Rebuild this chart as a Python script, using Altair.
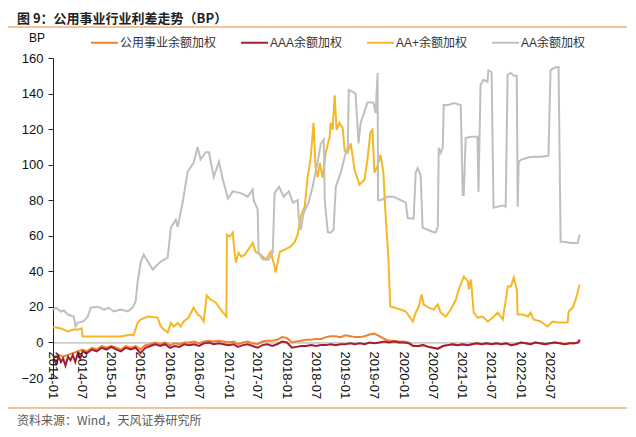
import altair as alt
import pandas as pd

SERIES = ["公用事业余额加权", "AAA余额加权", "AA+余额加权", "AA余额加权"]
COLORS = ["#EE822F", "#A21E36", "#F5B724", "#BFBFBF"]

TITLE = ["图 9：公用事业行业利差走势（BP）"]
UNIT = ["BP"]
SOURCE = ["资料来源：Wind，天风证券研究所"]

Y_TICKS = [-20, 0, 20, 40, 60, 80, 100, 120, 140, 160]
X_TICK_LABELS = [f"{y}-{m:02d}" for y in range(2014, 2023) for m in (1, 7)]

# 公用事业余额加权
util_dates = [
    "2014-01-05", "2014-02-05", "2014-03-05", "2014-04-05", "2014-05-05", "2014-06-05",
    "2014-07-05", "2014-08-01", "2014-09-01", "2014-10-01", "2014-11-01", "2014-12-01",
    "2015-01-01", "2015-02-01", "2015-03-01", "2015-04-01", "2015-05-01", "2015-06-01",
    "2015-07-01", "2015-08-01", "2015-09-01", "2015-10-01", "2015-11-01", "2015-12-01",
    "2016-01-01", "2016-02-01", "2016-03-01", "2016-04-01", "2016-05-01", "2016-06-01",
    "2016-07-01", "2016-08-01", "2016-09-01", "2016-10-01", "2016-11-01", "2016-12-01",
    "2017-01-01", "2017-02-01", "2017-03-01", "2017-04-01", "2017-05-01", "2017-06-01",
    "2017-07-01", "2017-08-01", "2017-09-01", "2017-10-01", "2017-11-01", "2017-12-01",
    "2018-01-01", "2018-02-01", "2018-03-01", "2018-04-01", "2018-05-01", "2018-06-01",
    "2018-07-01", "2018-08-01", "2018-09-01", "2018-10-01", "2018-11-01", "2018-12-01",
    "2019-01-01", "2019-02-01", "2019-03-01", "2019-04-01", "2019-05-01", "2019-06-01",
    "2019-07-01", "2019-08-01", "2019-09-01", "2019-10-01", "2019-11-01", "2019-12-01",
    "2020-01-01", "2020-02-01", "2020-03-01", "2020-04-01", "2020-05-01", "2020-06-01",
    "2020-07-01", "2020-08-01", "2020-09-01", "2020-10-01", "2020-11-01", "2020-12-01",
    "2021-01-01", "2021-02-01", "2021-03-01", "2021-04-01", "2021-05-01", "2021-06-01",
    "2021-07-01", "2021-08-01", "2021-09-01", "2021-10-01", "2021-11-01", "2021-12-01",
    "2022-01-01", "2022-02-01", "2022-03-01", "2022-04-01", "2022-05-01", "2022-06-01",
    "2022-07-01", "2022-08-01", "2022-09-01", "2022-10-01", "2022-11-01", "2022-12-01",
    "2022-12-25", "2023-01-03",
]
util_values = [
    -8, -7, -8, -7, -6, -5,
    -4, -5, -3, -4, -2, -3,
    -2, -3, -4, -2, -3, -2,
    -4, -1.5, -1, 0, -1, 0,
    -1.5, -0.5, -1, 0, 0, 0.5,
    -0.5, 0.5, 1, 0.5, 1, 0.5,
    0, 0.5, -1, 0, 0.5, -0.5,
    -1, 0.5, 1, 1, 1.5, 3,
    2.5, 0, 0.5, 1, 1.5, 1.5,
    2, 2, 3, 3.5, 3.5, 3,
    4, 3.5, 3, 3, 3.5, 4.5,
    5, 3.5, 2, 1, 1, 0.5,
    0.5, 0, -2, -2, -1.5, -2.5,
    -3, -3.5, -2, -1.5, -1, -1.5,
    -1, -1.5, -1, -0.5, -1, -0.5,
    -1, -0.5, -1, -0.5, -1.5, -1,
    0, -0.5, -1, 0, -0.5, -1,
    -0.5, 0, -0.5, -1, -0.5, -0.5,
    0, 1.5,
]

# AAA余额加权
aaa_dates = [
    "2014-01-05", "2014-01-20", "2014-02-05", "2014-02-20", "2014-03-05", "2014-03-20",
    "2014-04-05", "2014-04-20", "2014-05-05", "2014-05-20", "2014-06-05", "2014-06-20",
    "2014-07-05", "2014-08-01", "2014-09-01", "2014-10-01", "2014-11-01", "2014-12-01",
    "2015-01-01", "2015-02-01", "2015-03-01", "2015-04-01", "2015-05-01", "2015-06-01",
    "2015-07-01", "2015-08-01", "2015-09-01", "2015-10-01", "2015-11-01", "2015-12-01",
    "2016-01-01", "2016-02-01", "2016-03-01", "2016-04-01", "2016-05-01", "2016-06-01",
    "2016-07-01", "2016-08-01", "2016-09-01", "2016-10-01", "2016-11-01", "2016-12-01",
    "2017-01-01", "2017-02-01", "2017-03-01", "2017-04-01", "2017-05-01", "2017-06-01",
    "2017-07-01", "2017-08-01", "2017-09-01", "2017-10-01", "2017-11-01", "2017-12-01",
    "2018-01-01", "2018-02-01", "2018-03-01", "2018-04-01", "2018-05-01", "2018-06-01",
    "2018-07-01", "2018-08-01", "2018-09-01", "2018-10-01", "2018-11-01", "2018-12-01",
    "2019-01-01", "2019-02-01", "2019-03-01", "2019-04-01", "2019-05-01", "2019-06-01",
    "2019-07-01", "2019-08-01", "2019-09-01", "2019-10-01", "2019-11-01", "2019-12-01",
    "2020-01-01", "2020-02-01", "2020-03-01", "2020-04-01", "2020-05-01", "2020-06-01",
    "2020-07-01", "2020-08-01", "2020-09-01", "2020-10-01", "2020-11-01", "2020-12-01",
    "2021-01-01", "2021-02-01", "2021-03-01", "2021-04-01", "2021-05-01", "2021-06-01",
    "2021-07-01", "2021-08-01", "2021-09-01", "2021-10-01", "2021-11-01", "2021-12-01",
    "2022-01-01", "2022-02-01", "2022-03-01", "2022-04-01", "2022-05-01", "2022-06-01",
    "2022-07-01", "2022-08-01", "2022-09-01", "2022-10-01", "2022-11-01", "2022-12-01",
    "2022-12-25", "2023-01-03",
]
aaa_values = [
    -9, -12, -8, -11, -9, -13,
    -8, -10, -7, -11, -6, -9,
    -5, -6, -4, -5, -3, -4,
    -2.5, -4, -5, -3, -4, -3,
    -6, -3, -2, -1, -2, -1,
    -3, -2, -2.5, -1, -1.5, -1,
    -2, -0.5, 0, -1, -0.5, -1,
    -1.5, -1, -2.5, -1.5, -1, -2,
    -3, -1.5, -1, -2, -1, 0.5,
    0, -3, -2.5, -2, -2, -1.5,
    -2, -1.5, -1.5, -1, -1.5, -1,
    -1, -0.5, -1, -0.5, -1, 0,
    -0.5, 0, 0.5, 0, 0.5, 0,
    0, -0.5, -2, -2, -1.5, -2.5,
    -3, -3.5, -2, -1.5, -1, -1.5,
    -1, -1.5, -1, -0.5, -1, -0.5,
    -1, -0.5, -1, -0.5, -1.5, -1,
    0, -0.5, -1, 0, -0.5, -1,
    -0.5, 0, -0.5, -1, -0.5, -0.5,
    0, 1.5,
]

# AA+余额加权
aap_dates = [
    "2014-01-02", "2014-01-19", "2014-02-20", "2014-04-03", "2014-05-10", "2014-06-10",
    "2014-06-29", "2014-07-05", "2014-08-25", "2014-12-10", "2015-03-01", "2015-05-01",
    "2015-05-19", "2015-06-13", "2015-07-02", "2015-08-16", "2015-10-16", "2015-11-05",
    "2015-11-24", "2015-12-18", "2016-01-07", "2016-01-25", "2016-02-19", "2016-03-08",
    "2016-03-27", "2016-04-27", "2016-05-28", "2016-06-23", "2016-07-11", "2016-07-30",
    "2016-08-18", "2016-09-13", "2016-10-13", "2016-11-14", "2016-12-09", "2016-12-19",
    "2016-12-22", "2017-01-10", "2017-01-28", "2017-02-04", "2017-02-16", "2017-03-04",
    "2017-03-22", "2017-04-13", "2017-05-13", "2017-06-01", "2017-06-19", "2017-07-20",
    "2017-08-22", "2017-09-22", "2017-10-16", "2017-10-22", "2017-11-18", "2017-12-18",
    "2018-01-25", "2018-02-19", "2018-03-09", "2018-03-28", "2018-04-22", "2018-04-28",
    "2018-05-10", "2018-05-28", "2018-06-16", "2018-06-28", "2018-07-12", "2018-07-25",
    "2018-08-12", "2018-08-31", "2018-09-25", "2018-10-01", "2018-10-13", "2018-10-26",
    "2018-11-07", "2018-11-25", "2018-12-15", "2018-12-27", "2019-01-15", "2019-02-03",
    "2019-02-28", "2019-03-30", "2019-04-30", "2019-05-19", "2019-06-06", "2019-06-19",
    "2019-07-01", "2019-07-20", "2019-08-08", "2019-08-26", "2019-09-07", "2019-09-26",
    "2019-10-08", "2019-12-12", "2020-01-13", "2020-02-26", "2020-03-15", "2020-04-03",
    "2020-04-21", "2020-05-04", "2020-06-05", "2020-07-05", "2020-07-30", "2020-08-18",
    "2020-09-19", "2020-10-20", "2020-11-21", "2020-12-09", "2021-01-10", "2021-02-04",
    "2021-02-10", "2021-02-23", "2021-03-12", "2021-04-06", "2021-05-07", "2021-06-08",
    "2021-07-09", "2021-08-09", "2021-09-10", "2021-10-11", "2021-10-30", "2021-11-18",
    "2021-12-06", "2021-12-12", "2022-01-13", "2022-02-14", "2022-03-02", "2022-03-21",
    "2022-05-04", "2022-06-16", "2022-07-18", "2022-08-18", "2022-09-25", "2022-10-20",
    "2022-10-26", "2022-11-21", "2022-12-09", "2023-01-03",
]
aap_values = [
    8.4, 8.4, 7.9, 6.2, 7.3, 7.3,
    7.9, 3.4, 3.4, 3.4, 3.4, 4.5,
    3.9, 11, 12.9, 14.6, 14, 9,
    7.3, 5.6, 11, 9, 11, 9,
    11.8, 14, 19.6, 15.7, 14.6, 11.8,
    26.4, 24, 22.5, 18.5, 15.7, 14.6,
    60.6, 59.5, 61.8, 54, 45, 50.5,
    48.3, 49.4, 53.3, 56, 51, 49.4,
    46.6, 51, 42.7, 39.3, 51, 52.2,
    54, 56.7, 60.6, 70.7, 76.4, 82,
    93, 103, 123.5, 99, 93, 101,
    92.6, 106.7, 115.7, 123.5, 119.6, 139,
    119.6, 123.5, 120.7, 108, 106.7, 112,
    97, 88.7, 91.5, 103, 118, 119.6,
    95.5, 99, 105.6, 95.5, 74.7, 48.3,
    20.2, 18.5, 17.4, 11.8, 16.8, 20.2,
    27, 21.3, 19.6, 18.5, 21.3, 16.8,
    14.6, 18.5, 24, 29.8, 37, 34.3,
    29.8, 35.4, 16.8, 14, 14.6, 11.8,
    14, 16.8, 12.9, 31.5, 31.5, 36.5,
    29.8, 15.7, 15.7, 14.6, 16.8, 12.9,
    11.8, 9, 11.8, 11.2, 11.2, 11.2,
    17.4, 19.6, 24, 32.6,
]

# AA余额加权
aa_dates = [
    "2014-01-02", "2014-01-20", "2014-02-19", "2014-03-10", "2014-04-03", "2014-05-10",
    "2014-05-22", "2014-06-04", "2014-07-12", "2014-08-06", "2014-08-25", "2014-10-08",
    "2014-11-15", "2014-12-15", "2015-01-16", "2015-03-01", "2015-04-13", "2015-05-13",
    "2015-06-01", "2015-06-13", "2015-07-02", "2015-07-21", "2015-08-16", "2015-09-16",
    "2015-10-04", "2015-11-05", "2015-12-18", "2016-01-07", "2016-02-07", "2016-02-19",
    "2016-03-21", "2016-04-21", "2016-05-28", "2016-06-22", "2016-07-11", "2016-08-12",
    "2016-09-01", "2016-10-01", "2016-11-02", "2016-11-27", "2016-12-28", "2017-01-28",
    "2017-03-18", "2017-05-01", "2017-06-01", "2017-06-07", "2017-07-02", "2017-07-08",
    "2017-08-03", "2017-09-10", "2017-10-04", "2017-10-16", "2017-11-12", "2017-12-12",
    "2018-01-13", "2018-02-07", "2018-03-09", "2018-03-15", "2018-03-28", "2018-04-16",
    "2018-05-16", "2018-06-10", "2018-07-12", "2018-08-01", "2018-08-19", "2018-08-25",
    "2018-09-13", "2018-10-01", "2018-10-19", "2018-11-02", "2018-12-03", "2019-01-03",
    "2019-01-16", "2019-01-22", "2019-02-16", "2019-03-05", "2019-03-18", "2019-03-24",
    "2019-04-06", "2019-05-19", "2019-06-25", "2019-07-09", "2019-07-21", "2019-07-24",
    "2019-08-09", "2019-09-22", "2019-10-29", "2019-12-12", "2020-01-13", "2020-01-25",
    "2020-03-02", "2020-03-15", "2020-03-27", "2020-04-15", "2020-04-27", "2020-05-28",
    "2020-06-28", "2020-07-18", "2020-07-31", "2020-08-06", "2020-08-18", "2020-08-31",
    "2020-09-06", "2020-10-06", "2020-11-08", "2020-12-21", "2021-01-03", "2021-01-09",
    "2021-01-21", "2021-02-21", "2021-04-05", "2021-04-11", "2021-04-24", "2021-05-12",
    "2021-06-06", "2021-06-12", "2021-07-02", "2021-07-14", "2021-08-09", "2021-09-15",
    "2021-09-28", "2021-10-10", "2021-10-29", "2021-11-17", "2021-12-06", "2021-12-12",
    "2021-12-18", "2022-01-01", "2022-02-13", "2022-03-21", "2022-05-03", "2022-06-22",
    "2022-07-05", "2022-07-24", "2022-08-24", "2022-09-06", "2022-09-25", "2022-11-08",
    "2022-12-21", "2023-01-03",
]
aa_values = [
    18.5, 19.5, 17.4, 18, 15.7, 14.6,
    9, 11, 12, 14.6, 19.6, 20,
    18.5, 19.5, 17.4, 18.5, 17.4, 19.6,
    23, 33.7, 44.9, 49.4, 45.5, 41,
    42.7, 45.5, 47.7, 64.6, 69, 65,
    79, 96, 101, 110, 103, 107,
    107, 93, 101.6, 91.5, 81, 85,
    84, 82, 86, 80, 75, 50.5,
    46.6, 46.6, 50.5, 84, 87.6, 82,
    85, 78.6, 80, 70.7, 63.4, 73,
    78.6, 87.6, 101.6, 112, 114, 80,
    62, 61.8, 63.4, 87.6, 95.5, 106.7,
    110, 142, 141, 140, 121, 112,
    123.5, 135, 135, 129, 151.6, 80,
    80, 82, 82, 80, 78.6, 70,
    69.6, 95.5, 98, 94, 64.6, 63.4,
    62.3, 61.8, 65, 109.5, 106.7, 109.5,
    133.6, 133.6, 134.7, 133.6, 83, 83,
    115, 115.7, 115.7, 84.8, 144.9, 147.7,
    146.6, 153, 152, 75.8, 76.4, 77,
    76.4, 150.5, 151.6, 150, 150, 76.4,
    101.6, 102.7, 104, 104.5, 104.5, 105,
    153, 154.4, 155, 56.7, 56.7, 56,
    56, 60.6,
]

frames = []
for name, d, v in [
    (SERIES[0], util_dates, util_values),
    (SERIES[1], aaa_dates, aaa_values),
    (SERIES[2], aap_dates, aap_values),
    (SERIES[3], aa_dates, aa_values),
]:
    frames.append(pd.DataFrame({"date": d, "value": v, "series": name}))
df = pd.concat(frames, ignore_index=True)

tick_df = pd.DataFrame({"label": X_TICK_LABELS, "date": [s + "-01" for s in X_TICK_LABELS]})

AXIS_FONT = "Liberation Sans"
CJK_FONT = "Noto Sans CJK SC"
MIX_FONT = "Liberation Sans, Noto Sans CJK SC"

W, H = 527, 320
zero_offset = -H * 20 / 180
zero_y = H + zero_offset

x_scale = alt.Scale(
    type="utc",
    domain=[
        alt.DateTime(year=2014, month=1, date=1, utc=True),
        alt.DateTime(year=2023, month=1, date=5, utc=True),
    ],
)

lines = alt.Chart(df).mark_line(strokeWidth=2).encode(
    x=alt.X(
        "date:T",
        scale=x_scale,
        axis=alt.Axis(
            offset=zero_offset,
            domainColor="#A6A6A6",
            domainWidth=1,
            ticks=False,
            labels=False,
            grid=False,
            title=None,
        ),
    ),
    y=alt.Y(
        "value:Q",
        scale=alt.Scale(domain=[-20, 160], nice=False, zero=False),
        axis=alt.Axis(
            values=Y_TICKS,
            grid=False,
            title=None,
            domainColor="#222222",
            tickColor="#222222",
            tickSize=5,
            labelPadding=5,
            labelFont=AXIS_FONT,
            labelFontSize=13,
            labelColor="#111111",
        ),
    ),
    color=alt.Color(
        "series:N",
        sort=SERIES,
        scale=alt.Scale(domain=SERIES, range=COLORS),
        legend=alt.Legend(
            title=None,
            orient="none",
            legendX=37,
            legendY=-30,
            direction="horizontal",
            symbolType="stroke",
            symbolStrokeWidth=2,
            symbolSize=729,
            labelFont=MIX_FONT,
            labelFontSize=12,
            labelColor="#333333",
            labelOffset=1,
            columnPadding=20,
            padding=0,
        ),
    ),
)

xlabels = alt.Chart(tick_df).mark_text(
    angle=90, align="left", baseline="middle", font=AXIS_FONT, fontSize=13, color="#111111"
).encode(
    x=alt.X("date:T", scale=x_scale),
    y=alt.value(zero_y + 9),
    text="label:N",
)

title = alt.Chart(pd.DataFrame({"t": TITLE})).mark_text(
    align="left", baseline="middle", font=CJK_FONT, fontSize=13, fontWeight="bold", color="#222222"
).encode(x=alt.value(-36), y=alt.value(-39), text="t:N")

unit = alt.Chart(pd.DataFrame({"t": UNIT})).mark_text(
    align="center", baseline="middle", font=AXIS_FONT, fontSize=12, color="#111111"
).encode(x=alt.value(-16), y=alt.value(-20), text="t:N")

source = alt.Chart(pd.DataFrame({"t": SOURCE})).mark_text(
    align="left", baseline="middle", font=CJK_FONT, fontSize=12, color="#595959"
).encode(x=alt.value(-36), y=alt.value(363), text="t:N")

rule_top = alt.Chart(pd.DataFrame({"t": TITLE})).mark_rule(color="#E8893A", strokeWidth=1).encode(
    x=alt.value(-45), x2=alt.value(574), y=alt.value(-31)
)
rule_bottom = alt.Chart(pd.DataFrame({"t": SOURCE})).mark_rule(color="#E8893A", strokeWidth=1).encode(
    x=alt.value(-45), x2=alt.value(574), y=alt.value(350)
)

chart = alt.layer(lines, xlabels, title, unit, source, rule_top, rule_bottom).properties(
    width=W,
    height=H,
    padding={"left": 45, "top": 50, "right": 48, "bottom": 51},
    autosize=alt.AutoSizeParams(type="none"),
    background="white",
).configure_view(stroke=None)

chart.save("out.html", embed_options={"renderer": "svg", "actions": False})
